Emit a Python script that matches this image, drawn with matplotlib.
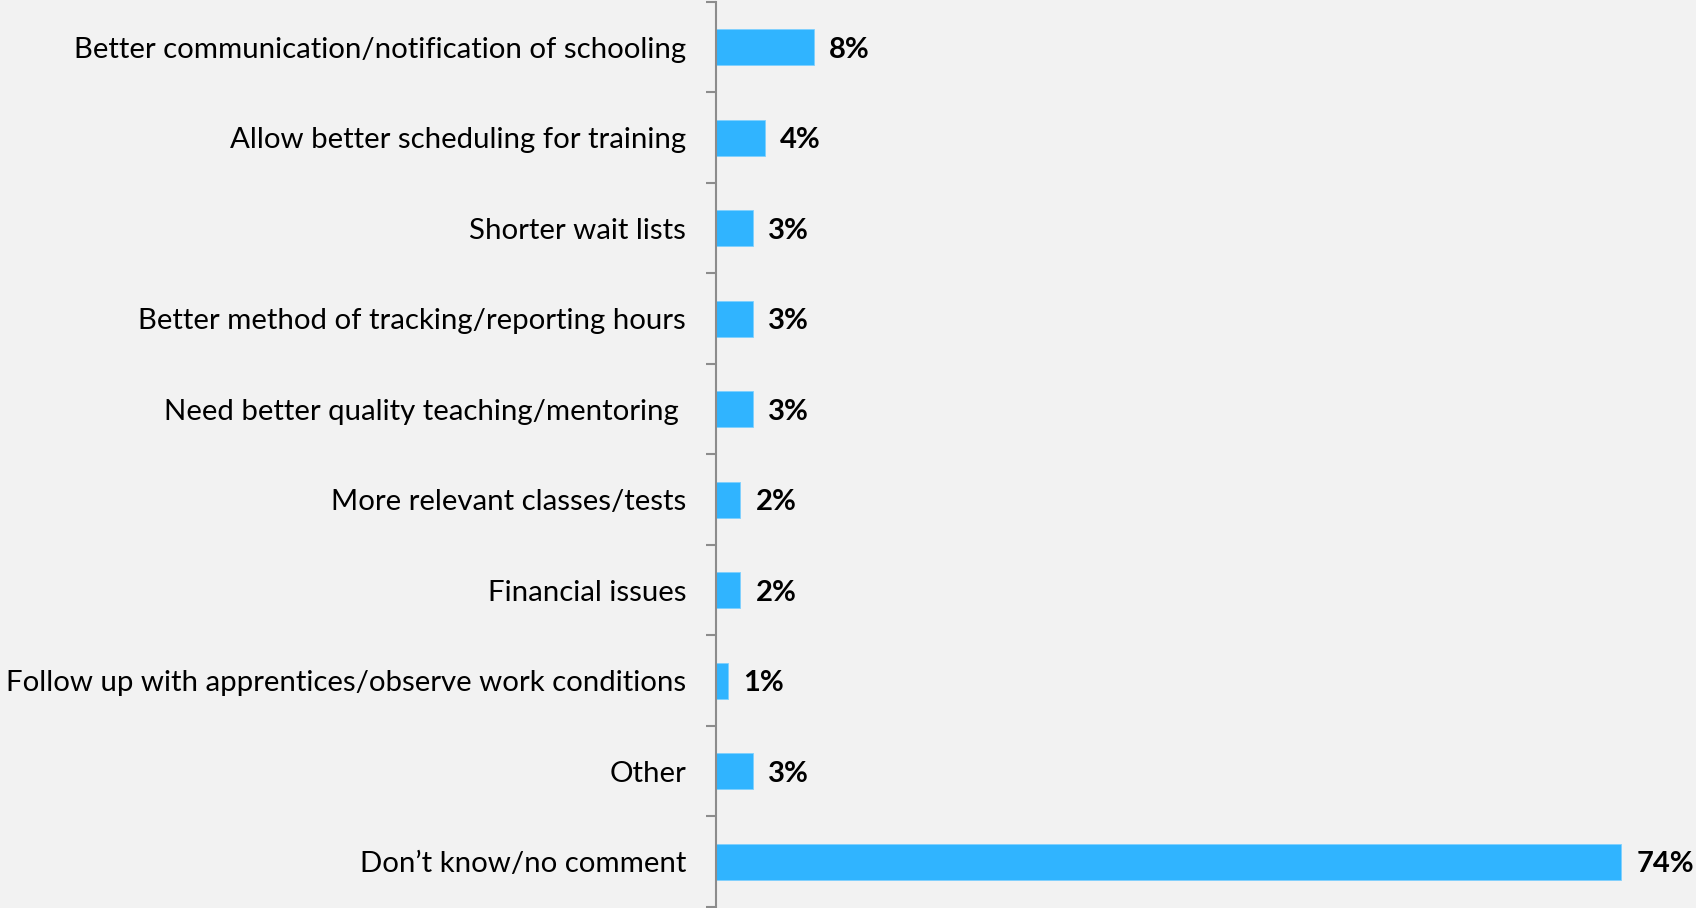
import matplotlib
matplotlib.use("Agg")
import matplotlib.pyplot as plt
from matplotlib.ticker import FixedLocator

categories = [
    "Better communication/notification of schooling",
    "Allow better scheduling for training",
    "Shorter wait lists",
    "Better method of tracking/reporting hours",
    "Need better quality teaching/mentoring ",
    "More relevant classes/tests",
    "Financial issues",
    "Follow up with apprentices/observe work conditions",
    "Other",
    "Don\u2019t know/no comment",
]
values = [8, 4, 3, 3, 3, 2, 2, 1, 3, 74]

BG = "#F2F2F2"
BAR = "#30B4FF"
AXIS = "#8C8C8C"

plt.rcParams["font.family"] = ["Lato", "DejaVu Sans"]

fig = plt.figure(figsize=(16.96, 9.08), dpi=100, facecolor=BG)
ax = fig.add_axes([716 / 1696, 1 / 908, 1 - 716 / 1696, 905 / 908], facecolor=BG)

pos = list(range(len(categories)))
ax.barh(pos, values, height=0.4, color=BAR, edgecolor="#7FD0FF", linewidth=0.6, zorder=2)

for y, v in zip(pos, values):
    ax.text(v + 1.25, y, f"{v}%", va="center_baseline", ha="left",
            fontsize=21, fontweight="bold", color="black")

ax.set_xlim(0, 80.1)
ax.set_ylim(len(categories) - 0.5, -0.5)

ax.set_yticks(pos)
ax.set_yticklabels(categories, fontsize=21.2, color="black")
ax.tick_params(axis="y", which="major", length=0, pad=21.5)
ax.yaxis.set_minor_locator(FixedLocator([i - 0.5 for i in range(len(categories) + 1)]))
ax.tick_params(axis="y", which="minor", length=7.5, width=1.5, color=AXIS)

ax.set_xticks([])
for side in ("top", "right", "bottom"):
    ax.spines[side].set_visible(False)
ax.spines["left"].set_color(AXIS)
ax.spines["left"].set_linewidth(1.5)

fig.savefig("out.png", dpi=100, facecolor=BG)
